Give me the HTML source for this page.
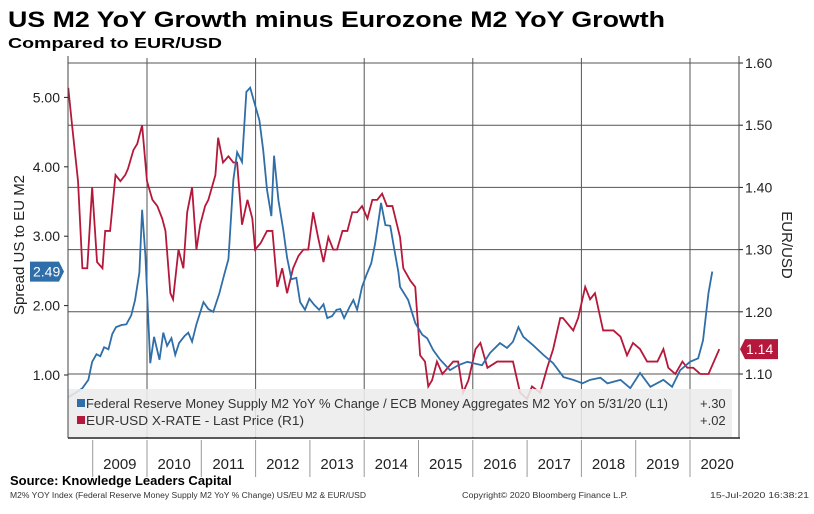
<!DOCTYPE html>
<html><head><meta charset="utf-8"><style>
body{margin:0;background:#fff;width:814px;height:514px;overflow:hidden;font-family:"Liberation Sans",sans-serif}
svg{display:block}
</style></head><body>
<svg id="c" width="814" height="514">
<text x="8" y="27" font-size="22" font-weight="bold" textLength="657" lengthAdjust="spacingAndGlyphs">US M2 YoY Growth minus Eurozone M2 YoY Growth</text>
<text x="8" y="48" font-size="15" font-weight="bold" textLength="214" lengthAdjust="spacingAndGlyphs">Compared to EUR/USD</text>
<g id="grid"></g>
<g id="series"></g>
<rect x="68" y="389" width="664" height="48" fill="#ececec" fill-opacity="0.88"/>
<g>
<rect x="77" y="399" width="8" height="8" fill="#2f6ea8"/>
<text x="86" y="408" font-size="13" fill="#333" textLength="582" lengthAdjust="spacingAndGlyphs">Federal Reserve Money Supply M2 YoY % Change / ECB Money Aggregates M2 YoY on 5/31/20 (L1)</text>
<text x="700" y="408" font-size="13" fill="#333">+.30</text></g>
<g>
<rect x="77" y="416" width="8" height="8" fill="#b5183a"/>
<text x="86" y="425" font-size="13" fill="#333" textLength="218" lengthAdjust="spacingAndGlyphs">EUR-USD X-RATE - Last Price (R1)</text>
<text x="700" y="425" font-size="13" fill="#333">+.02</text></g>
<line x1="68" y1="438" x2="740" y2="438" stroke="#222" stroke-width="1.5"/>
<g id="xaxis"></g>
<g id="axes"></g>
<text transform="translate(24,245) rotate(-90)" text-anchor="middle" font-size="15" fill="#222">Spread US to EU M2</text>
<text transform="translate(782,245) rotate(90)" text-anchor="middle" font-size="15" fill="#222">EUR/USD</text>
<text x="10" y="485" font-size="13" font-weight="bold">Source: Knowledge Leaders Capital</text>
<text x="10" y="498" font-size="8" fill="#333" textLength="356" lengthAdjust="spacingAndGlyphs">M2% YOY Index (Federal Reserve Money Supply M2 YoY % Change) US/EU M2 &amp; EUR/USD</text>
<text x="462" y="498" font-size="8" fill="#333" textLength="166" lengthAdjust="spacingAndGlyphs">Copyright© 2020 Bloomberg Finance L.P.</text>
<text x="710" y="498" font-size="8" fill="#333" textLength="99" lengthAdjust="spacingAndGlyphs">15-Jul-2020 16:38:21</text>
</svg>
<script>
const leftTicks=[1,2,3,4,5];
const rightTicks=[1.1,1.2,1.3,1.4,1.5,1.6];
const years=[2009,2010,2011,2012,2013,2014,2015,2016,2017,2018,2019,2020];
const blueDates=[2008.55,2008.68,2008.81,2008.92,2008.99,2009.07,2009.14,2009.21,2009.29,2009.36,2009.43,2009.53,2009.62,2009.71,2009.78,2009.86,2009.91,2009.97,2010.06,2010.13,2010.23,2010.30,2010.37,2010.45,2010.52,2010.59,2010.69,2010.76,2010.83,2010.91,2011.04,2011.13,2011.22,2011.33,2011.42,2011.50,2011.59,2011.66,2011.75,2011.83,2011.90,2011.99,2012.07,2012.14,2012.21,2012.29,2012.34,2012.42,2012.51,2012.58,2012.66,2012.75,2012.82,2012.91,2012.99,2013.08,2013.17,2013.25,2013.32,2013.41,2013.49,2013.56,2013.63,2013.73,2013.80,2013.87,2013.96,2014.04,2014.13,2014.20,2014.28,2014.31,2014.39,2014.48,2014.55,2014.63,2014.66,2014.81,2014.94,2015.07,2015.16,2015.27,2015.40,2015.58,2015.73,2015.90,2016.01,2016.17,2016.32,2016.50,2016.63,2016.74,2016.84,2016.93,2017.11,2017.30,2017.48,2017.67,2017.85,2018.02,2018.16,2018.35,2018.48,2018.72,2018.90,2019.08,2019.27,2019.51,2019.67,2019.82,2020.00,2020.15,2020.24,2020.34,2020.41];
const blueValues=[0.68,0.74,0.81,0.93,1.19,1.30,1.27,1.40,1.37,1.59,1.69,1.72,1.73,1.86,2.08,2.48,3.38,2.73,1.17,1.55,1.22,1.61,1.42,1.53,1.29,1.46,1.56,1.61,1.48,1.73,2.05,1.95,1.91,2.17,2.44,2.67,3.81,4.21,4.07,5.08,5.14,4.89,4.67,4.24,3.67,3.29,4.16,3.52,3.09,2.69,2.38,2.40,2.05,1.94,2.10,2.01,1.94,2.02,1.82,1.85,1.94,1.95,1.82,1.98,2.08,1.94,2.27,2.44,2.61,2.89,3.31,3.48,3.16,3.15,2.83,2.48,2.27,2.08,1.75,1.58,1.53,1.36,1.22,1.07,1.14,1.19,1.17,1.14,1.32,1.46,1.39,1.48,1.69,1.55,1.43,1.29,1.17,0.97,0.93,0.88,0.93,0.96,0.88,0.93,0.81,1.03,0.83,0.93,0.83,1.07,1.19,1.24,1.50,2.18,2.49];
const redDates=[2008.55,2008.62,2008.73,2008.81,2008.90,2008.99,2009.08,2009.18,2009.23,2009.32,2009.42,2009.51,2009.60,2009.65,2009.75,2009.82,2009.91,2010.00,2010.10,2010.19,2010.28,2010.34,2010.43,2010.48,2010.58,2010.67,2010.74,2010.83,2010.91,2010.98,2011.07,2011.13,2011.26,2011.31,2011.40,2011.50,2011.59,2011.66,2011.75,2011.85,2011.94,2011.99,2012.09,2012.21,2012.31,2012.40,2012.49,2012.58,2012.69,2012.79,2012.88,2012.97,2013.06,2013.15,2013.25,2013.34,2013.43,2013.50,2013.60,2013.69,2013.78,2013.87,2013.96,2014.06,2014.15,2014.24,2014.33,2014.42,2014.52,2014.66,2014.72,2014.85,2014.94,2015.03,2015.12,2015.18,2015.25,2015.34,2015.44,2015.64,2015.73,2015.82,2015.92,2016.05,2016.14,2016.27,2016.45,2016.63,2016.74,2016.87,2017.00,2017.09,2017.24,2017.37,2017.48,2017.61,2017.66,2017.85,2017.94,2018.07,2018.16,2018.25,2018.40,2018.59,2018.72,2018.84,2018.95,2019.08,2019.21,2019.40,2019.51,2019.60,2019.73,2019.86,2019.95,2020.06,2020.19,2020.34,2020.54];
const redValues=[1.56,1.50,1.41,1.27,1.27,1.40,1.28,1.27,1.33,1.33,1.42,1.41,1.42,1.43,1.46,1.47,1.50,1.41,1.38,1.37,1.35,1.33,1.23,1.22,1.30,1.27,1.36,1.40,1.30,1.34,1.37,1.38,1.42,1.48,1.44,1.45,1.44,1.44,1.34,1.38,1.35,1.30,1.31,1.33,1.33,1.24,1.27,1.23,1.27,1.29,1.30,1.30,1.36,1.32,1.28,1.32,1.30,1.30,1.33,1.33,1.36,1.36,1.37,1.35,1.38,1.38,1.39,1.37,1.37,1.32,1.27,1.25,1.24,1.13,1.12,1.08,1.09,1.12,1.10,1.12,1.12,1.07,1.09,1.14,1.15,1.11,1.12,1.12,1.12,1.07,1.06,1.08,1.07,1.11,1.14,1.19,1.19,1.17,1.19,1.24,1.22,1.23,1.17,1.17,1.16,1.13,1.15,1.14,1.12,1.12,1.14,1.11,1.10,1.12,1.11,1.11,1.10,1.10,1.14];

const NS='http://www.w3.org/2000/svg';
const X=y=>147+(y-2010)*54.3;
const YL=v=>375-(v-1)*69.4;
const YR=v=>374-(v-1.1)*622;
function mk(t,a,p){const e=document.createElementNS(NS,t);for(const k in a)e.setAttribute(k,a[k]);p.appendChild(e);return e;}
const grid=document.getElementById('grid'),ser=document.getElementById('series'),xa=document.getElementById('xaxis'),ax=document.getElementById('axes');
rightTicks.forEach(v=>{
 const l=mk('line',{x1:68,x2:739,y1:YR(v),y2:YR(v),stroke:'#555','stroke-width':1},grid);
 
 
 const t=mk('text',{x:745,y:YR(v)+5,'font-size':14,fill:'#222'},ax);t.textContent=v.toFixed(2);
 
 
 mk('line',{x1:739,x2:743,y1:YR(v),y2:YR(v),stroke:'#222'},ax);
});
[2010,2012,2014,2016,2018,2020].forEach(y=>{
 const l=mk('line',{x1:X(y),x2:X(y),y1:58,y2:438,stroke:'#555','stroke-width':1},grid);
 
 
});
mk('line',{x1:68,x2:68,y1:56,y2:438,stroke:'#444'},ax);
mk('line',{x1:739,x2:739,y1:56,y2:438,stroke:'#444'},ax);
leftTicks.forEach(v=>{
 const t=mk('text',{x:60,y:YL(v)+5,'font-size':14,fill:'#222','text-anchor':'end'},ax);t.textContent=v.toFixed(2);
 
 
 mk('line',{x1:64,x2:68,y1:YL(v),y2:YL(v),stroke:'#222'},ax);
});
years.forEach(y=>{
 const s=mk('line',{x1:X(y),x2:X(y),y1:440,y2:477,stroke:'#999'},xa);
 
 
 const t=mk('text',{x:X(y+0.5),y:469,'font-size':15,fill:'#222','text-anchor':'middle'},xa);t.textContent=y;
 
 
});
const red=mk('polyline',{points:redDates.map((d,i)=>X(d)+','+YR(redValues[i])).join(' '),fill:'none',stroke:'#b5183a','stroke-width':1.8},ser);


const blue=mk('polyline',{points:blueDates.map((d,i)=>X(d)+','+YL(blueValues[i])).join(' '),fill:'none',stroke:'#2f6ea8','stroke-width':1.8},ser);


const bl=blueValues[blueValues.length-1],by=YL(bl);
const bt=mk('path',{d:`M30 ${by-10}H59L64 ${by}L59 ${by+10}H30Z`,fill:'#2f6ea8'},ax);


const btt=mk('text',{x:33,y:by+5,'font-size':14,fill:'#fff'},ax);btt.textContent=bl.toFixed(2);
const rl=redValues[redValues.length-1],ry=YR(rl);
const rt=mk('path',{d:`M740 ${ry}L745 ${ry-10}H778V${ry+10}H745Z`,fill:'#b5183a'},ax);


const rtt=mk('text',{x:746,y:ry+5,'font-size':14,fill:'#fff'},ax);rtt.textContent=rl.toFixed(2);
</script>
</body></html>
